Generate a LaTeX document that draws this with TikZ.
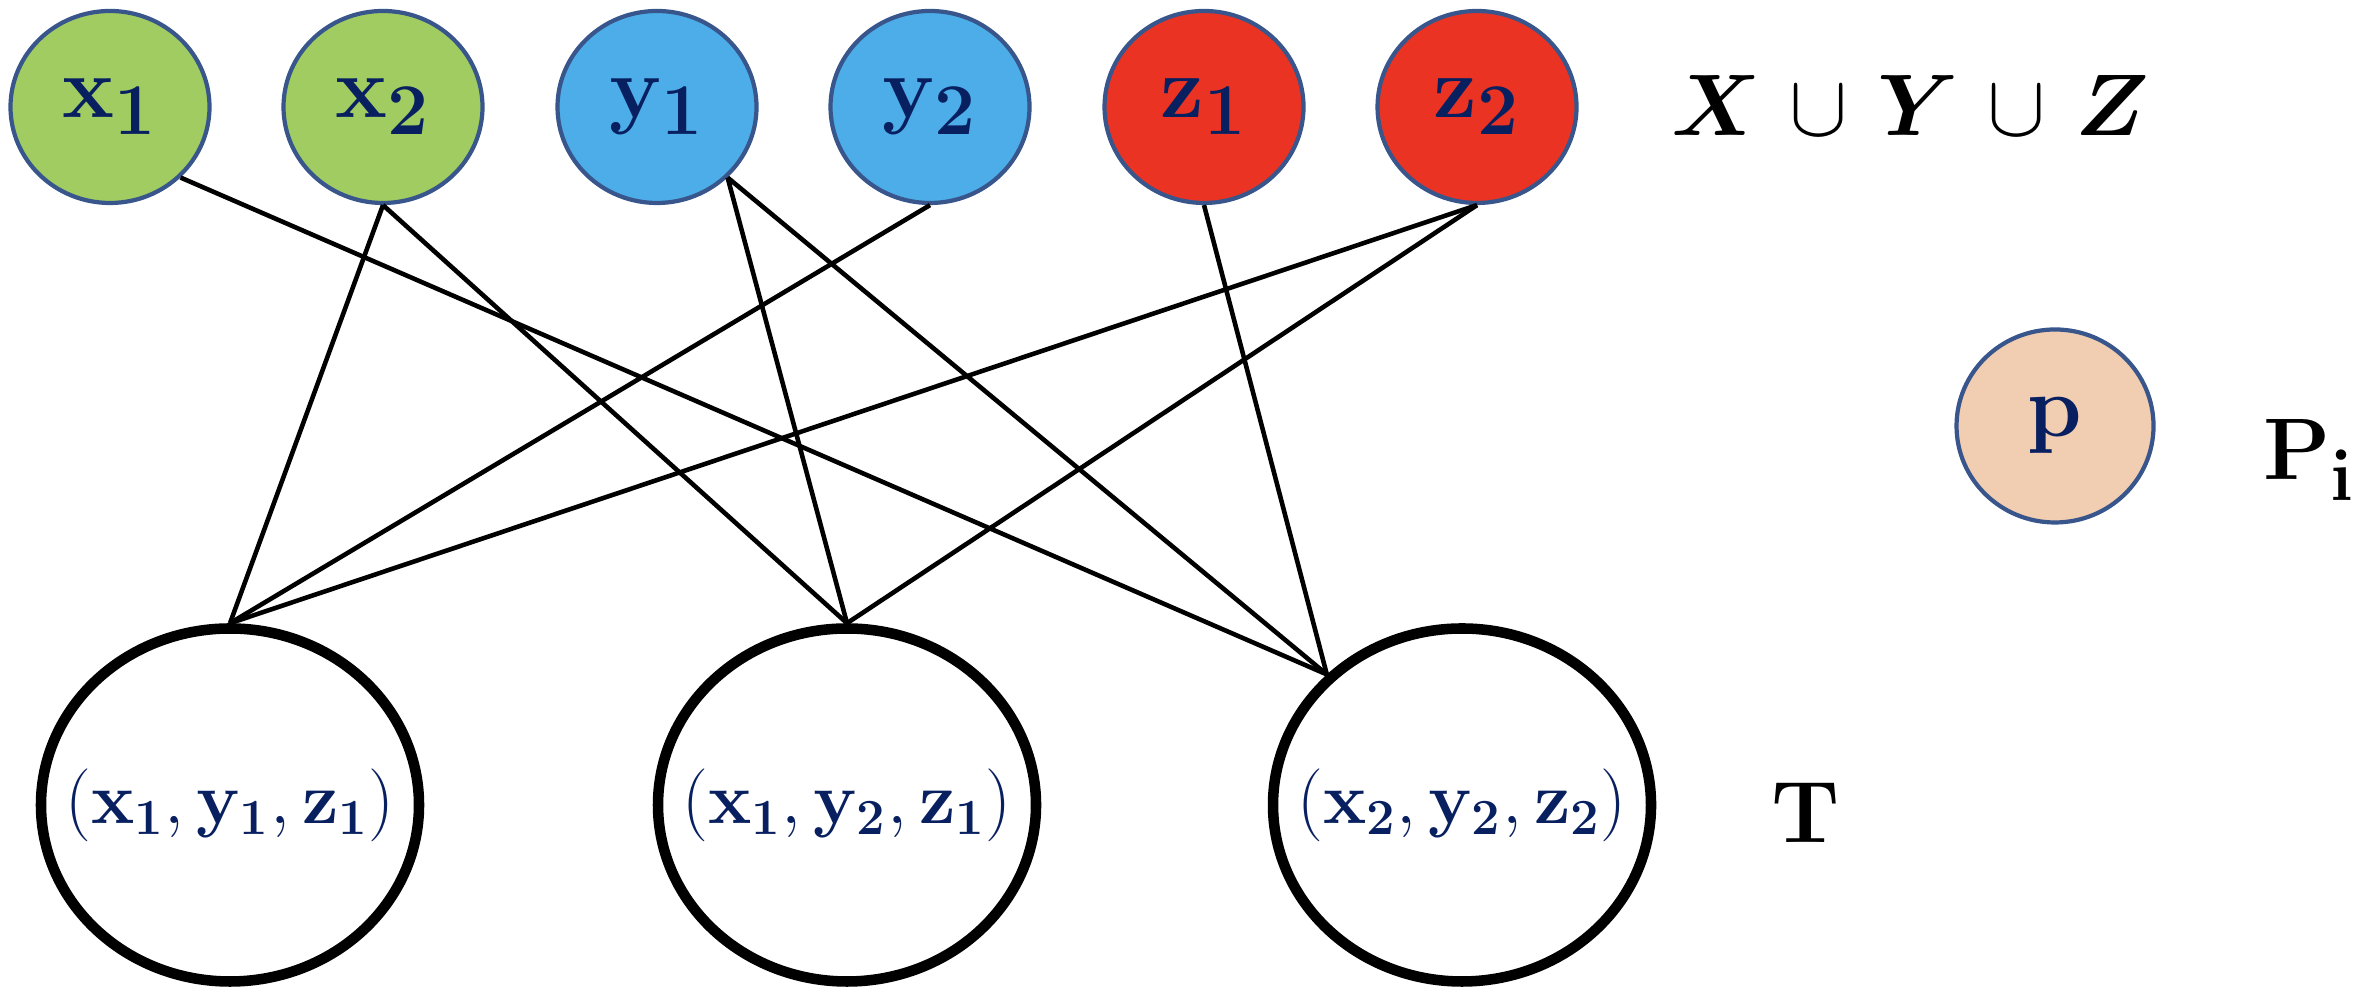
\documentclass[tikz,border=0pt]{standalone}
\usepackage{bm}
\usetikzlibrary{shapes.geometric}

\definecolor{setgreen}{RGB}{160,204,98}
\definecolor{setblue}{RGB}{76,173,232}
\definecolor{setred}{RGB}{235,51,36}
\definecolor{setpeach}{RGB}{241,205,177}
\definecolor{rimblue}{RGB}{56,86,140}
\definecolor{navy}{RGB}{8,32,96}

\begin{document}
\begin{tikzpicture}[
    elem/.style={ellipse, draw=rimblue, line width=1.2pt, minimum width=1.99cm, minimum height=1.92cm, inner sep=0pt, text=navy, font=\fontsize{31}{37}\selectfont},
    tup/.style={ellipse, draw=black, line width=3pt, minimum width=3.78cm, minimum height=3.53cm, inner sep=0pt, text=navy, font=\fontsize{19.5}{24}\selectfont},
    link/.style={line width=1.3pt},
    biglbl/.style={inner sep=0pt, font=\fontsize{32}{38}\selectfont}
  ]
  \useasboundingbox (0,0) rectangle (23.74,10);

  % elements of X, Y, Z
  \node[elem, fill=setgreen] (x1) at (1.10,8.93) {$\mathbf{x_1}$};
  \node[elem, fill=setgreen] (x2) at (3.83,8.93) {$\mathbf{x_2}$};
  \node[elem, fill=setblue] (y1) at (6.57,8.93) {$\mathbf{y_1}$};
  \node[elem, fill=setblue] (y2) at (9.30,8.93) {$\mathbf{y_2}$};
  \node[elem, fill=setred] (z1) at (12.04,8.93) {$\mathbf{z_1}$};
  \node[elem, fill=setred] (z2) at (14.77,8.93) {$\mathbf{z_2}$};
  \node[biglbl, anchor=base] (setlbl) at (19.10,8.64) {$\bm{X}\mkern2mu\cup\mkern2mu\bm{Y}\mkern2mu\cup\mkern2mu\bm{Z}$};

  % the point p
  \node[elem, fill=setpeach, minimum width=1.97cm, minimum height=1.93cm] (p) at (20.55,5.74) {$\mathbf{p}$};
  \node[biglbl, anchor=base west] (plbl) at (22.63,5.20) {$\mathbf{P}_{\mathbf{i}}$};

  % triples in T
  \node[tup] (t1) at (2.30,1.95) {\makebox[0pt]{$(\mathbf{x_1},\mathbf{y_1},\mathbf{z_1})$}};
  \node[tup] (t2) at (8.47,1.95) {\makebox[0pt]{$(\mathbf{x_1},\mathbf{y_2},\mathbf{z_1})$}};
  \node[tup] (t3) at (14.62,1.95) {\makebox[0pt]{$(\mathbf{x_2},\mathbf{y_2},\mathbf{z_2})$}};
  \node[biglbl, anchor=base] (tlbl) at (18.06,1.57) {$\mathbf{T}$};

  % connections
  \draw[link] (x1.-45) -- (t3.136);
  \draw[link] (x2.south) -- (t1.north);
  \draw[link] (x2.south) -- (t2.north);
  \draw[link] (y1.-45) -- (t2.north);
  \draw[link] (y1.-45) -- (t3.136);
  \draw[link] (y2.south) -- (t1.north);
  \draw[link] (z1.south) -- (t3.136);
  \draw[link] (z2.south) -- (t1.north);
  \draw[link] (z2.south) -- (t2.north);
\end{tikzpicture}
\end{document}
